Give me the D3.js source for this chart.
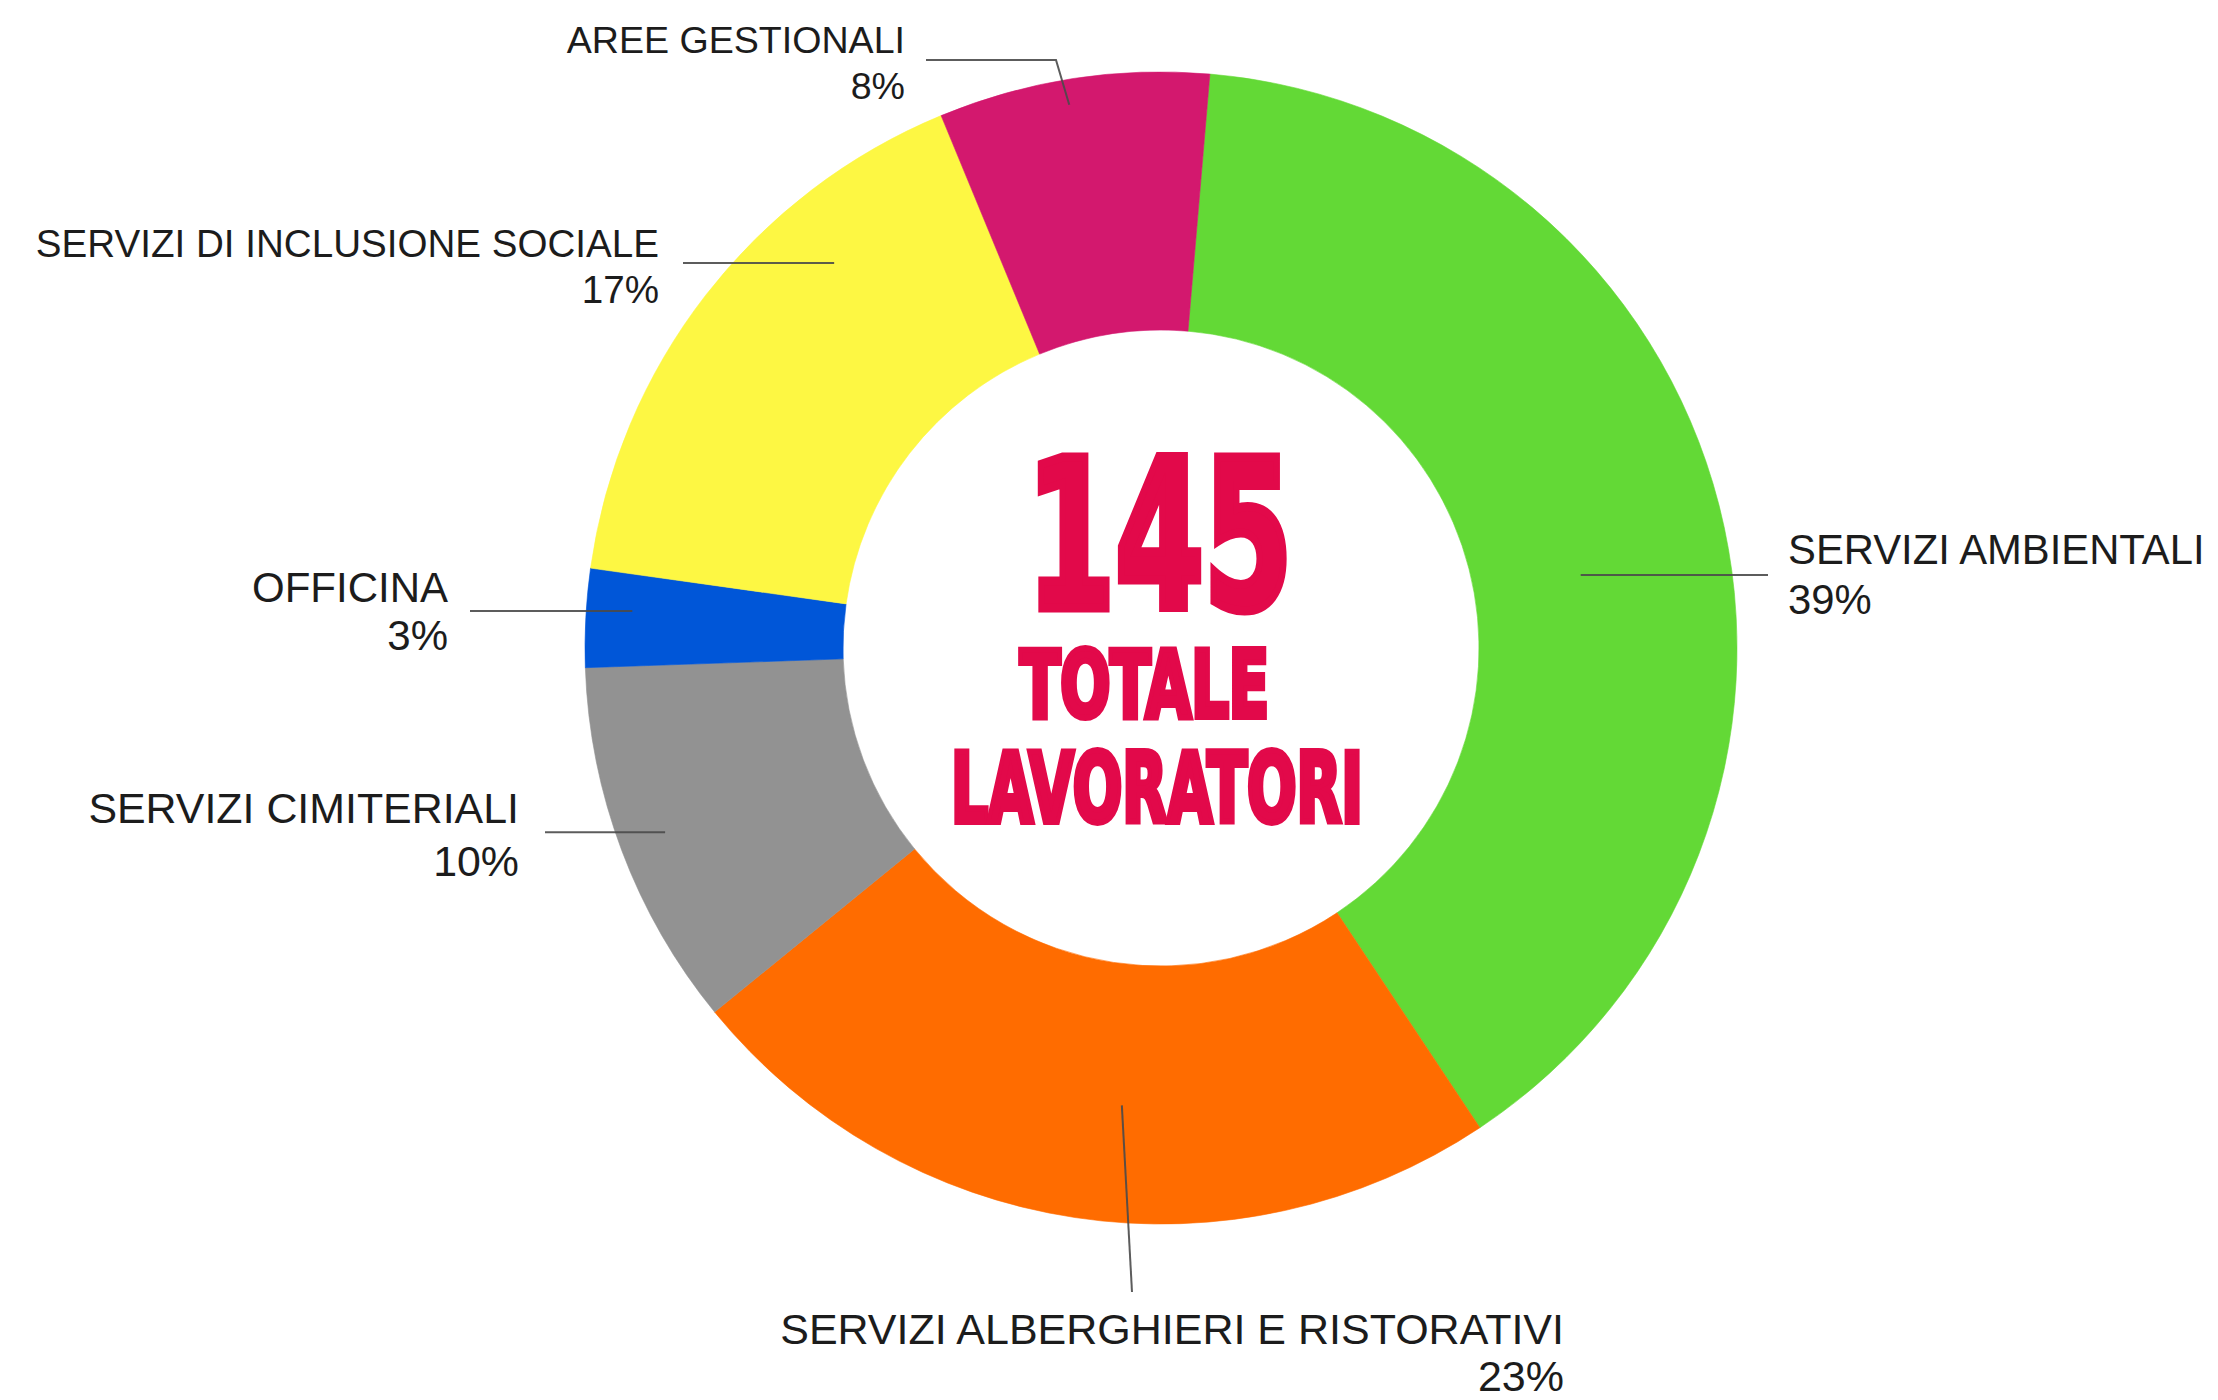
<!DOCTYPE html>
<html>
<head>
<meta charset="utf-8">
<script src="https://cdn.jsdelivr.net/npm/d3@7"></script>
<style>
  html, body { margin: 0; padding: 0; background: #ffffff; }
  svg { display: block; }
</style>
</head>
<body>
<svg id="chart" width="2218" height="1400"></svg>
<script>
// ---- DATA ----
const categories = [
  "SERVIZI AMBIENTALI",
  "SERVIZI ALBERGHIERI E RISTORATIVI",
  "SERVIZI CIMITERIALI",
  "OFFICINA",
  "SERVIZI DI INCLUSIONE SOCIALE",
  "AREE GESTIONALI"
];
const values = [57, 34, 15, 4, 24, 11];
const sliceColors = ["#63d936", "#ff6c00", "#929292", "#0056d8", "#fdf743", "#d3186e"];
const totalLabel = "145";
const centerLines = ["TOTALE", "LAVORATORI"];

// ---- LAYOUT ----
const W = 2218, H = 1400;
const cx = 1161, cy = 648;
const outerR = 576, innerR = 318;
const startDeg = 4.87;

// label layout (annotation placement)
const labelLayout = {
  "SERVIZI AMBIENTALI":               { da: 4.5,  r: 426, end: [1768, null], x: 1788, y1: 564, y2: 614, anchor: "start", fs: 41.8 },
  "SERVIZI ALBERGHIERI E RISTORATIVI": { da: -3.7, r: 459, end: [1132, 1292], x: 1564, y1: 1344, y2: 1391, anchor: "end", fs: 43 },
  "SERVIZI CIMITERIALI":              { da: 0.2,  r: 529, end: [545, null], x: 519, y1: 823, y2: 876, anchor: "end", fs: 42.9 },
  "OFFICINA":                         { da: 1.0,  r: 530, end: [470, null], x: 448, y1: 602, y2: 650, anchor: "end", fs: 42 },
  "SERVIZI DI INCLUSIONE SOCIALE":    { da: 11.9, r: 505, end: [683, null], x: 659, y1: 257, y2: 303, anchor: "end", fs: 38.6 },
  "AREE GESTIONALI":                  { da: -0.8, r: 551, elbow: [1056, 60], end: [926, 60], x: 905, y1: 53, y2: 99, anchor: "end", fs: 37.6 }
};

const data = categories.map((c, i) => ({ category: c, value: values[i], color: sliceColors[i] }));
const total = d3.sum(values);

const svg = d3.select("#chart");
const g = svg.append("g").attr("transform", `translate(${cx},${cy})`);

const start = startDeg * Math.PI / 180;
const pie = d3.pie().sort(null).value(d => d.value).startAngle(start).endAngle(start + 2 * Math.PI);
const arc = d3.arc().innerRadius(innerR).outerRadius(outerR);
const arcs = pie(data);

g.selectAll("path.slice")
  .data(arcs)
  .enter().append("path")
  .attr("class", "slice")
  .attr("d", arc)
  .attr("fill", d => d.data.color)
  .attr("stroke", d => d.data.color)
  .attr("stroke-width", 0.6);

// leader lines
const lineG = svg.append("g");
arcs.forEach(a => {
  const L = labelLayout[a.data.category];
  const mid = (a.startAngle + a.endAngle) / 2 + L.da * Math.PI / 180;
  const px = cx + L.r * Math.sin(mid);
  const py = cy - L.r * Math.cos(mid);
  const pts = [[px, py]];
  if (L.elbow) pts.push(L.elbow);
  pts.push([L.end[0], L.end[1] == null ? py : L.end[1]]);
  lineG.append("path")
    .attr("d", d3.line()(pts))
    .attr("fill", "none")
    .attr("stroke", "#4a4a4a")
    .attr("stroke-width", 2)
    .attr("stroke-opacity", 0.9);
});

// labels
const labG = svg.append("g")
  .attr("font-family", "'Liberation Sans', Arial, Helvetica, sans-serif")
  .attr("fill", "#1c1c1c");
arcs.forEach(a => {
  const L = labelLayout[a.data.category];
  const pct = Math.round(a.data.value / total * 100) + "%";
  labG.append("text")
    .attr("x", L.x).attr("y", L.y1)
    .attr("text-anchor", L.anchor)
    .attr("font-size", L.fs)
    .text(a.data.category);
  labG.append("text")
    .attr("x", L.x).attr("y", L.y2)
    .attr("text-anchor", L.anchor)
    .attr("font-size", L.fs)
    .text(pct);
});

// center text
const red = "#e2094a";
const cG = svg.append("g")
  .attr("font-family", "'DejaVu Sans Condensed', 'DejaVu Sans', sans-serif")
  .attr("font-weight", "bold")
  .attr("fill", red)
  .attr("stroke", red)
  .attr("stroke-linejoin", "miter");

const centerSpec = [
  { text: totalLabel,     left: cx - 139, width: 275, base: 612, fs: 206, sw: 9 },
  { text: centerLines[0], left: cx - 144, width: 255, base: 720, fs: 92,  sw: 6 },
  { text: centerLines[1], left: cx - 213, width: 418, base: 825, fs: 97,  sw: 6 }
];
centerSpec.forEach(s => {
  cG.append("text")
    .attr("x", s.left + s.sw / 2)
    .attr("y", s.base - s.sw / 2)
    .attr("font-size", s.fs)
    .attr("stroke-width", s.sw)
    .attr("textLength", s.width - s.sw)
    .attr("lengthAdjust", "spacingAndGlyphs")
    .text(s.text);
});
</script>
</body>
</html>
